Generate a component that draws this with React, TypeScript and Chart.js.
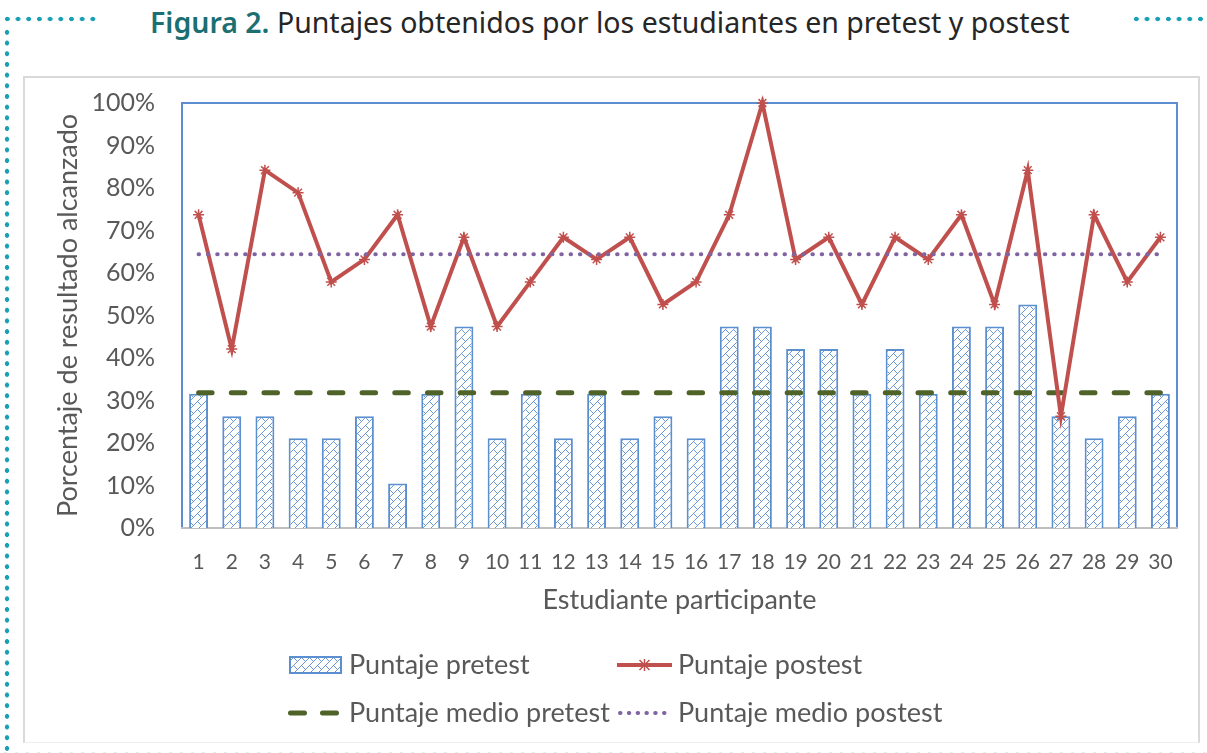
import React, { useEffect, useRef } from "react";
import { Chart, registerables } from "chart.js";
Chart.register(...registerables);

const students = ["1","2","3","4","5","6","7","8","9","10","11","12","13","14","15","16","17","18","19","20","21","22","23","24","25","26","27","28","29","30"];
const pretest = [31.6, 26.3, 26.3, 21.1, 21.1, 26.3, 10.5, 31.6, 47.4, 21.1, 31.6, 21.1, 31.6, 21.1, 26.3, 21.1, 47.4, 47.4, 42.1, 42.1, 31.6, 42.1, 31.6, 47.4, 47.4, 52.6, 26.3, 21.1, 26.3, 31.6];
const postest = [73.7, 42.1, 84.2, 78.9, 57.9, 63.2, 73.7, 47.4, 68.4, 47.4, 57.9, 68.4, 63.2, 68.4, 52.6, 57.9, 73.7, 100, 63.2, 68.4, 52.6, 68.4, 63.2, 73.7, 52.6, 84.2, 26.3, 73.7, 57.9, 68.4];
const meanPretest = [31.8, 31.8, 31.8, 31.8, 31.8, 31.8, 31.8, 31.8, 31.8, 31.8, 31.8, 31.8, 31.8, 31.8, 31.8, 31.8, 31.8, 31.8, 31.8, 31.8, 31.8, 31.8, 31.8, 31.8, 31.8, 31.8, 31.8, 31.8, 31.8, 31.8];
const meanPostest = [64.4, 64.4, 64.4, 64.4, 64.4, 64.4, 64.4, 64.4, 64.4, 64.4, 64.4, 64.4, 64.4, 64.4, 64.4, 64.4, 64.4, 64.4, 64.4, 64.4, 64.4, 64.4, 64.4, 64.4, 64.4, 64.4, 64.4, 64.4, 64.4, 64.4];
const seriesLabels = ["Puntaje pretest", "Puntaje postest", "Puntaje medio pretest", "Puntaje medio postest"];
const yMin = 0;
const yMax = 100;
const yStep = 10;

const BLUE = "#5b8fd0";
const RED = "#c0504d";
const GREEN = "#4f6228";
const PURPLE = "#8064a2";
const TEXT = "#595959";
const FONT = "Lato";

function makePattern(): CanvasPattern | string {
  const pc = document.createElement("canvas");
  pc.width = 8;
  pc.height = 8;
  const c = pc.getContext("2d");
  if (!c) return "#dfe9f6";
  c.fillStyle = "#ffffff";
  c.fillRect(0, 0, 8, 8);
  c.fillStyle = "#6c98d8";
  for (let x = 0; x < 8; x++) c.fillRect(x, 7 - x, 1, 1);
  c.fillRect(5, 4, 1, 1);
  c.fillRect(6, 5, 1, 1);
  c.fillRect(7, 6, 1, 1);
  const p = c.createPattern(pc, "repeat");
  return p || "#dfe9f6";
}

export default function App() {
  const ref = useRef<HTMLCanvasElement | null>(null);

  useEffect(() => {
    if (!ref.current) return;
    const pattern = makePattern();

    const borderPlugin = {
      id: "plotBorder",
      beforeDraw(chart: any) {
        const { ctx, chartArea } = chart;
        ctx.save();
        ctx.strokeStyle = BLUE;
        ctx.lineWidth = 2;
        ctx.strokeRect(chartArea.left, chartArea.top, chartArea.right - chartArea.left, chartArea.bottom - chartArea.top);
        ctx.restore();
      },
    };

    const legendPlugin = {
      id: "gridLegend",
      afterDraw(chart: any) {
        const ctx = chart.ctx as CanvasRenderingContext2D;
        ctx.save();
        const row1 = 587;
        const row2 = 635;
        // pretest bars
        ctx.fillStyle = pattern as any;
        ctx.fillRect(265, row1 - 8, 51, 16);
        ctx.strokeStyle = BLUE;
        ctx.lineWidth = 2;
        ctx.strokeRect(265, row1 - 8, 51, 16);
        // postest line
        ctx.strokeStyle = RED;
        ctx.lineWidth = 4;
        ctx.lineCap = "butt";
        ctx.beginPath();
        ctx.moveTo(592, row1);
        ctx.lineTo(647, row1);
        ctx.stroke();
        ctx.lineWidth = 1.5;
        const cx = 619.5, r = 5;
        ctx.beginPath();
        ctx.moveTo(cx - r, row1 - r); ctx.lineTo(cx + r, row1 + r);
        ctx.moveTo(cx + r, row1 - r); ctx.lineTo(cx - r, row1 + r);
        ctx.moveTo(cx, row1 - r - 1); ctx.lineTo(cx, row1 + r + 1);
        ctx.stroke();
        // mean pretest dashes
        ctx.strokeStyle = GREEN;
        ctx.lineWidth = 5;
        ctx.lineCap = "round";
        ctx.setLineDash([14, 18]);
        ctx.beginPath();
        ctx.moveTo(265.5, row2);
        ctx.lineTo(311.5, row2);
        ctx.stroke();
        // mean postest dots
        ctx.strokeStyle = PURPLE;
        ctx.lineWidth = 4;
        ctx.setLineDash([0.5, 8.3]);
        ctx.beginPath();
        ctx.moveTo(595, row2);
        ctx.lineTo(642, row2);
        ctx.stroke();
        ctx.setLineDash([]);
        // labels
        ctx.fillStyle = TEXT;
        ctx.font = `27px ${FONT}`;
        ctx.textBaseline = "middle";
        ctx.textAlign = "left";
        ctx.fillText(seriesLabels[0], 324, row1);
        ctx.fillText(seriesLabels[1], 653, row1);
        ctx.fillText(seriesLabels[2], 324, row2);
        ctx.fillText(seriesLabels[3], 653, row2);
        ctx.restore();
      },
    };

    const chart = new Chart(ref.current, {
      type: "bar",
      data: {
        labels: students,
        datasets: [
          {
            type: "bar",
            label: seriesLabels[0],
            data: pretest,
            backgroundColor: pattern as any,
            borderColor: BLUE,
            borderWidth: 2,
            categoryPercentage: 1,
            barPercentage: 0.57,
            order: 4,
          },
          {
            type: "line",
            label: seriesLabels[2],
            data: meanPretest,
            borderColor: GREEN,
            borderWidth: 5,
            borderDash: [13.5, 19.2],
            borderCapStyle: "round",
            pointRadius: 0,
            fill: false,
            order: 3,
          },
          {
            type: "line",
            label: seriesLabels[1],
            data: postest,
            borderColor: RED,
            backgroundColor: RED,
            borderWidth: 4,
            pointStyle: "star",
            pointRadius: 5.5,
            pointBorderWidth: 1.5,
            pointBorderColor: RED,
            pointBackgroundColor: RED,
            fill: false,
            clip: 12,
            order: 2,
          },
          {
            type: "line",
            label: seriesLabels[3],
            data: meanPostest,
            borderColor: PURPLE,
            borderWidth: 4,
            borderDash: [0.5, 8.8],
            borderCapStyle: "round",
            pointRadius: 0,
            fill: false,
            order: 1,
          },
        ] as any,
      },
      options: {
        animation: false,
        responsive: true,
        maintainAspectRatio: false,
        layout: { padding: { top: 25, right: 21, left: 0, bottom: 126 } },
        plugins: {
          legend: { display: false },
          tooltip: { enabled: false },
          title: { display: false },
        },
        scales: {
          x: {
            grid: { display: false, drawTicks: false },
            border: { display: true, color: "#bfbfbf", width: 2 },
            ticks: {
              color: TEXT,
              font: { family: FONT, size: 21 },
              padding: 22,
              autoSkip: false,
              maxRotation: 0,
            },
            title: {
              display: true,
              text: "Estudiante participante",
              color: TEXT,
              font: { family: FONT, size: 27 },
              padding: { top: 0, bottom: 0 },
            },
            afterFit: (s: any) => {
              s.height = 88;
              s.paddingLeft = 0;
              s.paddingRight = 0;
            },
          },
          y: {
            min: yMin,
            max: yMax,
            grid: { display: false, drawTicks: false },
            border: { display: false },
            ticks: {
              stepSize: yStep,
              color: TEXT,
              font: { family: FONT, size: 25 },
              padding: 27,
              callback: (v: any) => `${v}%`,
            },
            title: {
              display: true,
              text: "Porcentaje de resultado alcanzado",
              color: TEXT,
              font: { family: FONT, size: 27 },
              padding: { top: 27, bottom: 0 },
            },
            afterFit: (s: any) => {
              s.width = 157;
              s.paddingTop = 0;
              s.paddingBottom = 0;
            },
          },
        },
      },
      plugins: [borderPlugin, legendPlugin],
    });
    return () => chart.destroy();
  }, []);

  const dot = "radial-gradient(circle, #1aa0b4 0, #1aa0b4 2px, rgba(26,160,180,0) 2.6px)";
  const faintDot = "radial-gradient(circle, #d6eef2 0, #d6eef2 1px, rgba(26,160,180,0) 1.6px)";

  return (
    <div style={{ position: "absolute", left: 0, top: 0, width: 1207, height: 753, background: "#ffffff", overflow: "hidden" }}>
      <div style={{ position: "absolute", left: 2, top: 16, width: 96, height: 6, backgroundImage: dot, backgroundSize: "10.7px 6px", backgroundRepeat: "repeat-x" }} />
      <div style={{ position: "absolute", left: 4, top: 27, width: 6, height: 730, backgroundImage: dot, backgroundSize: "6px 10.7px", backgroundRepeat: "repeat-y" }} />
      <div style={{ position: "absolute", left: 1131, top: 16, width: 82, height: 6, backgroundImage: dot, backgroundSize: "10.7px 6px", backgroundRepeat: "repeat-x" }} />
      <div style={{ position: "absolute", left: 0, top: 750, width: 1207, height: 6, backgroundImage: faintDot, backgroundSize: "11px 6px", backgroundRepeat: "repeat-x" }} />
      <div
        style={{
          position: "absolute",
          left: 150,
          top: 6,
          fontFamily: '"Noto Sans", sans-serif',
          fontSize: 28.5,
          lineHeight: "32px",
          color: "#262626",
          whiteSpace: "nowrap",
        }}
      >
        <span style={{ color: "#1b6f73", fontWeight: 600 }}>Figura 2.</span> Puntajes obtenidos por los estudiantes en pretest y postest
      </div>
      <div style={{ position: "absolute", left: 23, top: 76, width: 1177, height: 667, borderLeft: "2px solid #d9d9d9", borderTop: "2px solid #d9d9d9", borderRight: "2px solid #d9d9d9", borderBottom: "1px solid #eeeeee", boxSizing: "border-box" }}>
        <canvas ref={ref} />
      </div>
    </div>
  );
}
